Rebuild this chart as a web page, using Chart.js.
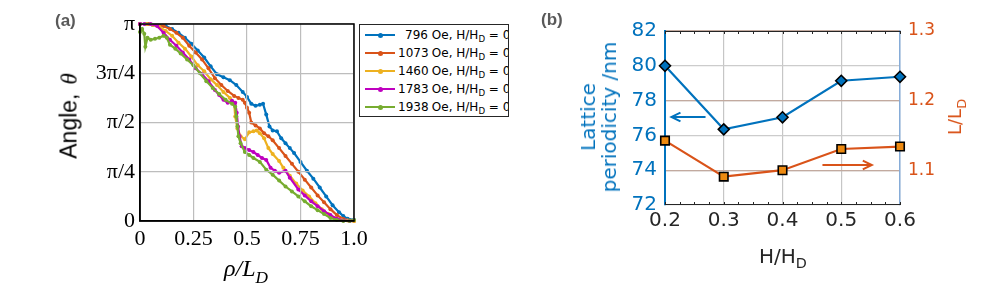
<!DOCTYPE html>
<html>
<head>
<meta charset="utf-8">
<script src="https://cdn.jsdelivr.net/npm/chart.js@4.4.1/dist/chart.umd.min.js"></script>
<style>
    body { margin: 0; background: #fff; width: 981px; height: 290px; position: relative; overflow: hidden; font-family: 'DejaVu Sans', sans-serif; }
    canvas { position: absolute; top: 0; }
    .txt { position: absolute; white-space: nowrap; line-height: 1; }
    .rot { transform: translate(-50%, -50%) rotate(-90deg); }
    .ctr { transform: translate(-50%, -50%); }
    .sub { font-size: 0.72em; position: relative; top: 0.38em; }
    .panel { font-family: 'Liberation Sans', sans-serif; font-weight: bold; font-size: 17px; color: #595959; }
    #legend { position: absolute; left: 359px; top: 24px; width: 150px; height: 93px; box-sizing: border-box;
              border: 1.5px solid #262626; background: #fff; overflow: hidden; padding-top: 1px; }
    .row { height: 18px; display: flex; align-items: center; font-size: 12px; color: #000; white-space: nowrap; }
    .sample { width: 30px; height: 2px; margin-left: 5px; margin-right: 3px; position: relative; flex: none; }
    .sample i { position: absolute; left: 13px; top: -1.5px; width: 5px; height: 5px; border-radius: 50%; }
    .num { display: inline-block; width: 30px; text-align: right; }
</style>
</head>
<body>
<canvas id="angleCurves" width="380" height="290" style="left:0px"></canvas>
<canvas id="angleAxes" width="380" height="290" style="left:0px"></canvas>
<canvas id="latticeChart" width="441" height="290" style="left:540px"></canvas>

<div class="txt panel" style="left:55px;top:12px">(a)</div>
<div class="txt panel" style="left:541px;top:11px">(b)</div>

<div class="txt rot" style="left:69px;top:116px;font-family:'Liberation Sans',sans-serif;font-size:23px">Angle,<span style="font-family:'Liberation Serif',serif;font-style:italic;margin-left:9px">θ</span></div>
<div class="txt ctr" style="left:246px;top:268px;font-family:'Liberation Serif',serif;font-style:italic;font-size:24px">ρ/L<span class="sub">D</span></div>
<div id="legend"></div>

<div class="txt rot" style="left:599px;top:117px;font-size:20px;line-height:21px;color:#0072BD;text-align:center">Lattice<br>periodicity /nm</div>
<div class="txt ctr" style="left:783px;top:256px;font-size:20px;color:#262626">H/H<span class="sub">D</span></div>
<div class="txt rot" style="left:955px;top:117px;font-size:18px;color:#D95319">L/L<span class="sub">D</span></div>

<script>
// ---- panel (a): angle profiles, angle stored in units of pi ----
const angleXTicks = [0, 0.25, 0.5, 0.75, 1];
const angleXTickLabels = ['0', '0.25', '0.5', '0.75', '1.0'];
const angleYTicks = [0, 0.25, 0.5, 0.75, 1];
const angleYTickLabels = ['0', 'π/4', 'π/2', '3π/4', 'π'];

const fieldOe = ['796', '1073', '1460', '1783', '1938'];
const fieldRatio = ['0.2', '0.3', '0.4', '0.5', '0.6'];
const seriesColors = ['#0072BD', '#D95319', '#EDB120', '#BF00BF', '#77AC30'];

const rho796 = [0, 0.03, 0.06, 0.09, 0.12, 0.15, 0.18, 0.21, 0.24, 0.27, 0.30, 0.33, 0.36, 0.39, 0.42, 0.45, 0.48, 0.50, 0.52, 0.54, 0.56, 0.575, 0.59, 0.605, 0.62, 0.64, 0.66, 0.68, 0.70, 0.72, 0.75, 0.78, 0.81, 0.84, 0.87, 0.90, 0.93, 0.95, 0.97, 1.0];
const angle796 = [1.0, 1.0, 0.995, 0.995, 0.99, 0.975, 0.955, 0.93, 0.9, 0.865, 0.83, 0.785, 0.745, 0.73, 0.715, 0.69, 0.655, 0.63, 0.595, 0.585, 0.59, 0.595, 0.54, 0.48, 0.46, 0.455, 0.42, 0.395, 0.37, 0.345, 0.3, 0.255, 0.215, 0.17, 0.125, 0.08, 0.045, 0.025, 0.012, 0.005];

const rho1073 = [0, 0.04, 0.08, 0.11, 0.14, 0.17, 0.2, 0.23, 0.26, 0.29, 0.32, 0.35, 0.38, 0.41, 0.44, 0.46, 0.48, 0.49, 0.5, 0.51, 0.52, 0.54, 0.56, 0.58, 0.6, 0.62, 0.65, 0.68, 0.71, 0.74, 0.77, 0.8, 0.83, 0.86, 0.89, 0.92, 0.95, 0.98, 1.0];
const angle1073 = [1.0, 1.0, 0.995, 0.99, 0.975, 0.955, 0.93, 0.89, 0.855, 0.82, 0.775, 0.725, 0.69, 0.66, 0.635, 0.625, 0.615, 0.6, 0.575, 0.55, 0.5, 0.485, 0.47, 0.445, 0.43, 0.41, 0.37, 0.33, 0.29, 0.25, 0.21, 0.17, 0.13, 0.095, 0.06, 0.03, 0.01, 0.003, 0.0];

const rho1460 = [0, 0.03, 0.06, 0.09, 0.12, 0.15, 0.18, 0.21, 0.24, 0.27, 0.30, 0.33, 0.36, 0.39, 0.42, 0.44, 0.445, 0.455, 0.47, 0.49, 0.51, 0.53, 0.545, 0.56, 0.58, 0.6, 0.62, 0.65, 0.67, 0.7, 0.73, 0.76, 0.79, 0.82, 0.85, 0.88, 0.91, 0.94, 0.97, 1.0];
const angle1460 = [1.0, 1.0, 0.995, 0.985, 0.965, 0.94, 0.905, 0.875, 0.835, 0.79, 0.76, 0.72, 0.69, 0.655, 0.625, 0.6, 0.53, 0.47, 0.43, 0.415, 0.45, 0.455, 0.46, 0.445, 0.42, 0.37, 0.34, 0.305, 0.27, 0.23, 0.19, 0.155, 0.125, 0.09, 0.06, 0.035, 0.015, 0.006, 0.002, 0.0];

const rho1783 = [0, 0.02, 0.05, 0.08, 0.11, 0.14, 0.17, 0.2, 0.23, 0.26, 0.29, 0.32, 0.35, 0.37, 0.39, 0.41, 0.43, 0.445, 0.452, 0.458, 0.465, 0.475, 0.49, 0.51, 0.53, 0.55, 0.57, 0.59, 0.61, 0.63, 0.65, 0.68, 0.70, 0.74, 0.77, 0.8, 0.83, 0.86, 0.89, 0.92, 0.95, 0.98];
const angle1783 = [1.0, 1.0, 1.0, 0.99, 0.955, 0.92, 0.89, 0.855, 0.82, 0.775, 0.745, 0.71, 0.665, 0.64, 0.615, 0.6, 0.61, 0.6, 0.55, 0.48, 0.43, 0.38, 0.37, 0.36, 0.35, 0.335, 0.32, 0.31, 0.27, 0.255, 0.245, 0.255, 0.22, 0.16, 0.13, 0.1, 0.075, 0.05, 0.03, 0.012, 0.003, 0.0];

const rho1938 = [0, 0.01, 0.02, 0.025, 0.035, 0.05, 0.07, 0.09, 0.11, 0.125, 0.14, 0.165, 0.19, 0.22, 0.25, 0.28, 0.31, 0.34, 0.37, 0.40, 0.43, 0.445, 0.45, 0.455, 0.46, 0.47, 0.49, 0.51, 0.53, 0.56, 0.59, 0.62, 0.65, 0.68, 0.71, 0.74, 0.77, 0.8, 0.83, 0.86, 0.89, 0.92, 0.95, 0.98, 1.0];
const angle1938 = [0.96, 0.975, 0.95, 0.885, 0.93, 0.92, 0.925, 0.93, 0.94, 0.93, 0.895, 0.875, 0.85, 0.82, 0.79, 0.75, 0.71, 0.675, 0.645, 0.615, 0.595, 0.58, 0.53, 0.48, 0.43, 0.395, 0.35, 0.335, 0.32, 0.3, 0.26, 0.235, 0.205, 0.175, 0.15, 0.125, 0.1, 0.075, 0.055, 0.035, 0.015, 0.005, 0.0, 0.0, 0.005];

const angleRho = [rho796, rho1073, rho1460, rho1783, rho1938];
const angleVals = [angle796, angle1073, angle1460, angle1783, angle1938];

// ---- panel (b): lattice periodicity vs field ----
const hRatio = [0.2, 0.3, 0.4, 0.5, 0.6];
const hTickLabels = ['0.2', '0.3', '0.4', '0.5', '0.6'];
const latticePeriod = [80.0, 76.35, 77.04, 79.14, 79.37];
const lengthRatio = [1.1425, 1.0907, 1.1000, 1.1305, 1.1340];
const periodTicks = [72, 74, 76, 78, 80, 82];
const ratioTicks = [1.1, 1.2, 1.3];
const ratioTickLabels = ['1.1', '1.2', '1.3'];
const minorStep = 0.025;

// arrows telling which axis belongs to which curve (data coordinates)
const axisArrows = [
    { scale: 'y', from: [0.269, 77.06], to: [0.211, 77.06], color: '#0072BD' },
    { scale: 'y2', from: [0.468, 1.1075], to: [0.552, 1.1075], color: '#D95319' }
];

function fixedTicks(values) {
    return scale => { scale.ticks = values.map(v => ({ value: v })); };
}

// legend for panel (a)
document.getElementById('legend').innerHTML = fieldOe.map((oe, i) => `
    <div class="row">
        <span class="sample" style="background:${seriesColors[i]}"><i style="background:${seriesColors[i]}"></i></span>
        <span><span class="num">${oe}</span> Oe, H/H<span class="sub" style="top:0.3em">D</span> = ${fieldRatio[i]}</span>
    </div>`).join('');

const boxFrame = {
    id: 'boxFrame',
    afterDatasetsDraw(chart) {
        const a = chart.chartArea, ctx = chart.ctx;
        ctx.save();
        ctx.strokeStyle = '#000';
        ctx.lineWidth = 1.5;
        ctx.strokeRect(a.left, a.top, a.right - a.left, a.bottom - a.top);
        ctx.restore();
    }
};

// both layers of panel (a) share the same axes so their plot areas line up
function angleScales(showAxes) {
    return {
        x: {
            type: 'linear', min: 0, max: 1,
            afterBuildTicks: fixedTicks(angleXTicks),
            afterFit: s => { s.height = 45; s.paddingLeft = 0; s.paddingRight = 0; },
            ticks: {
                display: showAxes,
                callback: (v, i) => angleXTickLabels[i],
                font: { family: 'Liberation Serif', size: 22 }, color: '#000',
                padding: 5, maxRotation: 0, autoSkip: false
            },
            grid: { display: showAxes, color: '#bdbdbd', lineWidth: 1.2, drawTicks: false },
            border: { display: showAxes, color: '#000', width: 1.5 }
        },
        y: {
            type: 'linear', min: 0, max: 1,
            afterBuildTicks: fixedTicks(angleYTicks),
            afterFit: s => { s.width = 140; s.paddingTop = 0; s.paddingBottom = 0; },
            ticks: {
                display: showAxes,
                callback: (v, i) => angleYTickLabels[i],
                font: { family: 'Liberation Serif', size: 22 }, color: '#000',
                padding: 5, autoSkip: false
            },
            grid: { display: showAxes, color: '#bdbdbd', lineWidth: 1.2, drawTicks: false },
            border: { display: showAxes, color: '#000', width: 1.5 }
        }
    };
}

const angleLayout = { autoPadding: false, padding: { left: 0, top: 24, right: 26, bottom: 24 } };

// curves layer
new Chart(document.getElementById('angleCurves'), {
    type: 'line',
    data: {
        datasets: angleRho.map((rho, i) => ({
            label: fieldOe[i] + ' Oe',
            data: rho.map((r, k) => ({ x: r, y: angleVals[i][k] })),
            borderColor: seriesColors[i],
            backgroundColor: seriesColors[i],
            pointBackgroundColor: seriesColors[i],
            borderWidth: 2.2,
            pointRadius: 2,
            pointBorderWidth: 0,
            tension: 0,
            order: 5 - i,
            clip: 3
        }))
    },
    options: {
        responsive: false,
        animation: false,
        events: [],
        layout: angleLayout,
        plugins: { legend: { display: false }, tooltip: { enabled: false } },
        scales: angleScales(false)
    }
});

// axes, grid and frame layer
new Chart(document.getElementById('angleAxes'), {
    type: 'line',
    data: { datasets: [] },
    options: {
        responsive: false,
        animation: false,
        events: [],
        layout: angleLayout,
        plugins: { legend: { display: false }, tooltip: { enabled: false } },
        scales: angleScales(true)
    },
    plugins: [boxFrame]
});

const latticeDecor = {
    id: 'latticeDecor',
    afterDatasetsDraw(chart) {
        const a = chart.chartArea, ctx = chart.ctx, xs = chart.scales.x;
        ctx.save();
        // top and bottom frame with minor ticks
        ctx.strokeStyle = '#262626';
        ctx.lineWidth = 1;
        ctx.beginPath();
        ctx.moveTo(a.left, a.top + 0.5); ctx.lineTo(a.right, a.top + 0.5);
        ctx.moveTo(a.left, a.bottom - 0.5); ctx.lineTo(a.right, a.bottom - 0.5);
        for (let v = xs.min; v <= xs.max + 1e-9; v += minorStep) {
            const px = Math.round(xs.getPixelForValue(v)) + 0.5;
            ctx.moveTo(px, a.top); ctx.lineTo(px, a.top + 3);
            ctx.moveTo(px, a.bottom); ctx.lineTo(px, a.bottom - 3);
        }
        ctx.stroke();
        // arrows
        axisArrows.forEach(arr => {
            const ys = chart.scales[arr.scale];
            const x0 = xs.getPixelForValue(arr.from[0]), y0 = ys.getPixelForValue(arr.from[1]);
            const x1 = xs.getPixelForValue(arr.to[0]), y1 = ys.getPixelForValue(arr.to[1]);
            const ang = Math.atan2(y1 - y0, x1 - x0);
            ctx.strokeStyle = arr.color;
            ctx.lineWidth = 2;
            ctx.beginPath();
            ctx.moveTo(x0, y0); ctx.lineTo(x1, y1);
            ctx.moveTo(x1 - 10 * Math.cos(ang - 0.45), y1 - 10 * Math.sin(ang - 0.45));
            ctx.lineTo(x1, y1);
            ctx.lineTo(x1 - 10 * Math.cos(ang + 0.45), y1 - 10 * Math.sin(ang + 0.45));
            ctx.stroke();
        });
        ctx.restore();
    }
};

new Chart(document.getElementById('latticeChart'), {
    type: 'line',
    data: {
        datasets: [
            {
                data: hRatio.map((h, k) => ({ x: h, y: latticePeriod[k] })),
                yAxisID: 'y',
                borderColor: '#0072BD',
                borderWidth: 2.2,
                pointStyle: 'rectRot',
                pointRadius: 5.5,
                pointBackgroundColor: '#0072BD',
                pointBorderColor: '#000',
                pointBorderWidth: 1.6,
                clip: false
            },
            {
                data: hRatio.map((h, k) => ({ x: h, y: lengthRatio[k] })),
                yAxisID: 'y2',
                borderColor: '#D95319',
                borderWidth: 2.2,
                pointStyle: 'rect',
                pointRadius: 6,
                pointBackgroundColor: '#EE8A10',
                pointBorderColor: '#000',
                pointBorderWidth: 1.6,
                clip: false
            }
        ]
    },
    options: {
        responsive: false,
        animation: false,
        events: [],
        layout: { autoPadding: false, padding: { left: 0, top: 31, right: 0, bottom: 40 } },
        plugins: { legend: { display: false }, tooltip: { enabled: false } },
        scales: {
            x: {
                type: 'linear', min: 0.2, max: 0.6,
                afterBuildTicks: fixedTicks(hRatio),
                afterFit: s => { s.height = 45; s.paddingLeft = 0; s.paddingRight = 0; },
                ticks: {
                    callback: (v, i) => hTickLabels[i],
                    font: { family: 'DejaVu Sans', size: 20 }, color: '#262626',
                    padding: 4, maxRotation: 0, autoSkip: false
                },
                grid: { color: '#c6c6c6', lineWidth: 1.2, drawTicks: false },
                border: { display: false }
            },
            y: {
                position: 'left', min: 72, max: 82,
                afterBuildTicks: fixedTicks(periodTicks),
                afterFit: s => { s.width = 125; s.paddingTop = 0; s.paddingBottom = 0; },
                ticks: {
                    callback: (v, i) => String(periodTicks[i]),
                    font: { family: 'DejaVu Sans', size: 20 }, color: '#0072BD',
                    padding: 8, autoSkip: false
                },
                grid: { color: '#cccccc', lineWidth: 1.2, drawTicks: false },
                border: { color: '#0072BD', width: 2 }
            },
            y2: {
                position: 'right', min: 1.05, max: 1.3,
                afterBuildTicks: fixedTicks(ratioTicks),
                afterFit: s => { s.width = 81; s.paddingTop = 0; s.paddingBottom = 0; },
                ticks: {
                    callback: (v, i) => ratioTickLabels[i],
                    font: { family: 'DejaVu Sans', size: 17 }, color: '#D95319',
                    padding: 8, autoSkip: false
                },
                grid: { color: '#c2aa9f', lineWidth: 1.2, drawTicks: false },
                border: { color: '#86acd8', width: 1.5 }
            }
        }
    },
    plugins: [latticeDecor]
});
</script>
</body>
</html>
